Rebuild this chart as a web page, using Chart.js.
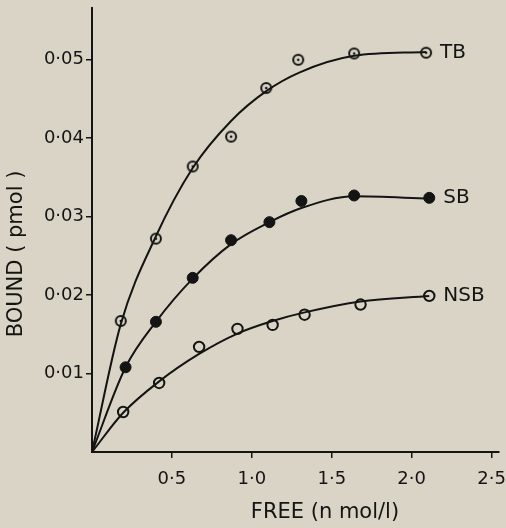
<!DOCTYPE html>
<html>
<head>
<meta charset="utf-8">
<script src="https://cdn.jsdelivr.net/npm/chart.js@4.4.1/dist/chart.umd.min.js"></script>
<style>
  html, body { margin: 0; padding: 0; background: #d9d4c5; }
  #wrap { width: 506px; height: 528px; position: relative; }
</style>
</head>
<body>
<div id="wrap"><canvas id="bindChart"></canvas></div>
<script>
// measured points, FREE (nmol/l) vs BOUND (pmol)
const freeTB   = [0.18, 0.40, 0.63, 0.87, 1.09, 1.29, 1.64, 2.09];
const boundTB  = [0.0167, 0.0272, 0.0364, 0.0402, 0.0464, 0.0500, 0.0508, 0.0509];
const freeSB   = [0.21, 0.40, 0.63, 0.87, 1.11, 1.31, 1.64, 2.11];
const boundSB  = [0.0108, 0.0166, 0.0222, 0.0270, 0.0293, 0.0320, 0.0327, 0.0324];
const freeNSB  = [0.195, 0.42, 0.67, 0.91, 1.13, 1.33, 1.68, 2.11];
const boundNSB = [0.0051, 0.0088, 0.0134, 0.0157, 0.0162, 0.0175, 0.0188, 0.0199];

// hand-drawn curves
const curveTBx  = [0, 0.18, 0.40, 0.63, 0.87, 1.09, 1.30, 1.64, 2.09];
const curveTBy  = [0, 0.0163, 0.0275, 0.0362, 0.0422, 0.0460, 0.0484, 0.0505, 0.0510];
const curveSBx  = [0, 0.21, 0.40, 0.63, 0.87, 1.11, 1.31, 1.64, 2.11];
const curveSBy  = [0, 0.0108, 0.0166, 0.0221, 0.0265, 0.0293, 0.0311, 0.0326, 0.0323];
const curveNSBx = [0, 0.195, 0.42, 0.67, 0.91, 1.13, 1.33, 1.68, 2.11];
const curveNSBy = [0, 0.0050, 0.0090, 0.0125, 0.0151, 0.0167, 0.0178, 0.0192, 0.0199];

const seriesNames = ['TB', 'SB', 'NSB'];
const xTickValues = [0.5, 1.0, 1.5, 2.0, 2.5];
const xTickLabels = ['0·5', '1·0', '1·5', '2·0', '2·5'];
const yTickValues = [0.01, 0.02, 0.03, 0.04, 0.05];
const yTickLabels = ['0·01', '0·02', '0·03', '0·04', '0·05'];

const BG = '#d9d4c5';
const INK = '#141414';
const FONT = '"DejaVu Sans", sans-serif';

const pts = (xs, ys) => xs.map((x, i) => ({ x: x, y: ys[i] }));

// open circle with a dot in the middle (TB marker)
function ringDot(r) {
  const c = document.createElement('canvas');
  c.width = c.height = 2 * r + 4;
  const g = c.getContext('2d');
  const m = r + 2;
  g.beginPath(); g.arc(m, m, r, 0, Math.PI * 2);
  g.fillStyle = BG; g.fill();
  g.lineWidth = 2; g.strokeStyle = INK; g.stroke();
  g.beginPath(); g.arc(m, m, 1.3, 0, Math.PI * 2);
  g.fillStyle = INK; g.fill();
  return c;
}

const curveStyle = {
  showLine: true, borderColor: INK, borderWidth: 2, pointRadius: 0,
  cubicInterpolationMode: 'monotone', fill: false
};

const bgPlugin = {
  id: 'bg',
  beforeDraw(chart) {
    const c = chart.ctx;
    c.save(); c.fillStyle = BG; c.fillRect(0, 0, chart.width, chart.height); c.restore();
  }
};

// axis titles and the TB / SB / NSB tags
const textPlugin = {
  id: 'texts',
  afterDraw(chart) {
    const c = chart.ctx;
    const xs = chart.scales.x, ys = chart.scales.y;
    c.save();
    c.fillStyle = INK;
    c.font = '20px ' + FONT;
    c.textBaseline = 'middle';
    c.textAlign = 'left';
    [[freeTB, boundTB], [freeSB, boundSB], [freeNSB, boundNSB]].forEach((s, i) => {
      const n = s[0].length - 1;
      c.fillText(seriesNames[i], xs.getPixelForValue(s[0][n]) + 14, ys.getPixelForValue(s[1][n]));
    });
    c.font = '21px ' + FONT;
    c.textAlign = 'center';
    c.fillText('FREE (n mol/l)', 325, 513);
    c.translate(17, 254);
    c.rotate(-Math.PI / 2);
    c.fillText('BOUND ( pmol )', 0, 0);
    c.restore();
  }
};

new Chart(document.getElementById('bindChart'), {
  type: 'scatter',
  data: {
    datasets: [
      Object.assign({ data: pts(curveTBx, curveTBy) }, curveStyle),
      Object.assign({ data: pts(curveSBx, curveSBy) }, curveStyle),
      Object.assign({ data: pts(curveNSBx, curveNSBy) }, curveStyle),
      { label: 'TB', data: pts(freeTB, boundTB), pointStyle: ringDot(5), pointRadius: 5 },
      { label: 'SB', data: pts(freeSB, boundSB), pointStyle: 'circle', pointRadius: 5.5,
        backgroundColor: INK, borderColor: INK, borderWidth: 1 },
      { label: 'NSB', data: pts(freeNSB, boundNSB), pointStyle: 'circle', pointRadius: 5.2,
        backgroundColor: BG, borderColor: INK, borderWidth: 2 }
    ]
  },
  options: {
    responsive: true,
    maintainAspectRatio: false,
    animation: false,
    layout: { padding: { left: 0, top: 8, right: 0, bottom: 0 } },
    plugins: { legend: { display: false }, tooltip: { enabled: false } },
    scales: {
      x: {
        type: 'linear', min: 0, max: 2.545,
        afterBuildTicks: s => { s.ticks = xTickValues.map(v => ({ value: v })); },
        afterFit: s => { s.height = 76; s.paddingRight = 0; s.paddingLeft = 0; },
        ticks: {
          color: INK, font: { family: FONT, size: 18 }, padding: 11, maxRotation: 0,
          callback: (v, i) => xTickLabels[i]
        },
        grid: { drawOnChartArea: false, drawTicks: true, tickLength: 6, color: INK, lineWidth: 1.5 },
        border: { display: true, color: INK, width: 2 }
      },
      y: {
        type: 'linear', min: 0, max: 0.0566,
        afterBuildTicks: s => { s.ticks = yTickValues.map(v => ({ value: v })); },
        afterFit: s => { s.width = 92; s.paddingTop = 0; s.paddingBottom = 0; },
        ticks: {
          color: INK, font: { family: FONT, size: 18 }, padding: 2,
          callback: (v, i) => yTickLabels[i]
        },
        grid: { drawOnChartArea: false, drawTicks: true, tickLength: 6, color: INK, lineWidth: 1.5 },
        border: { display: true, color: INK, width: 2 }
      }
    }
  },
  plugins: [bgPlugin, textPlugin]
});
</script>
</body>
</html>
